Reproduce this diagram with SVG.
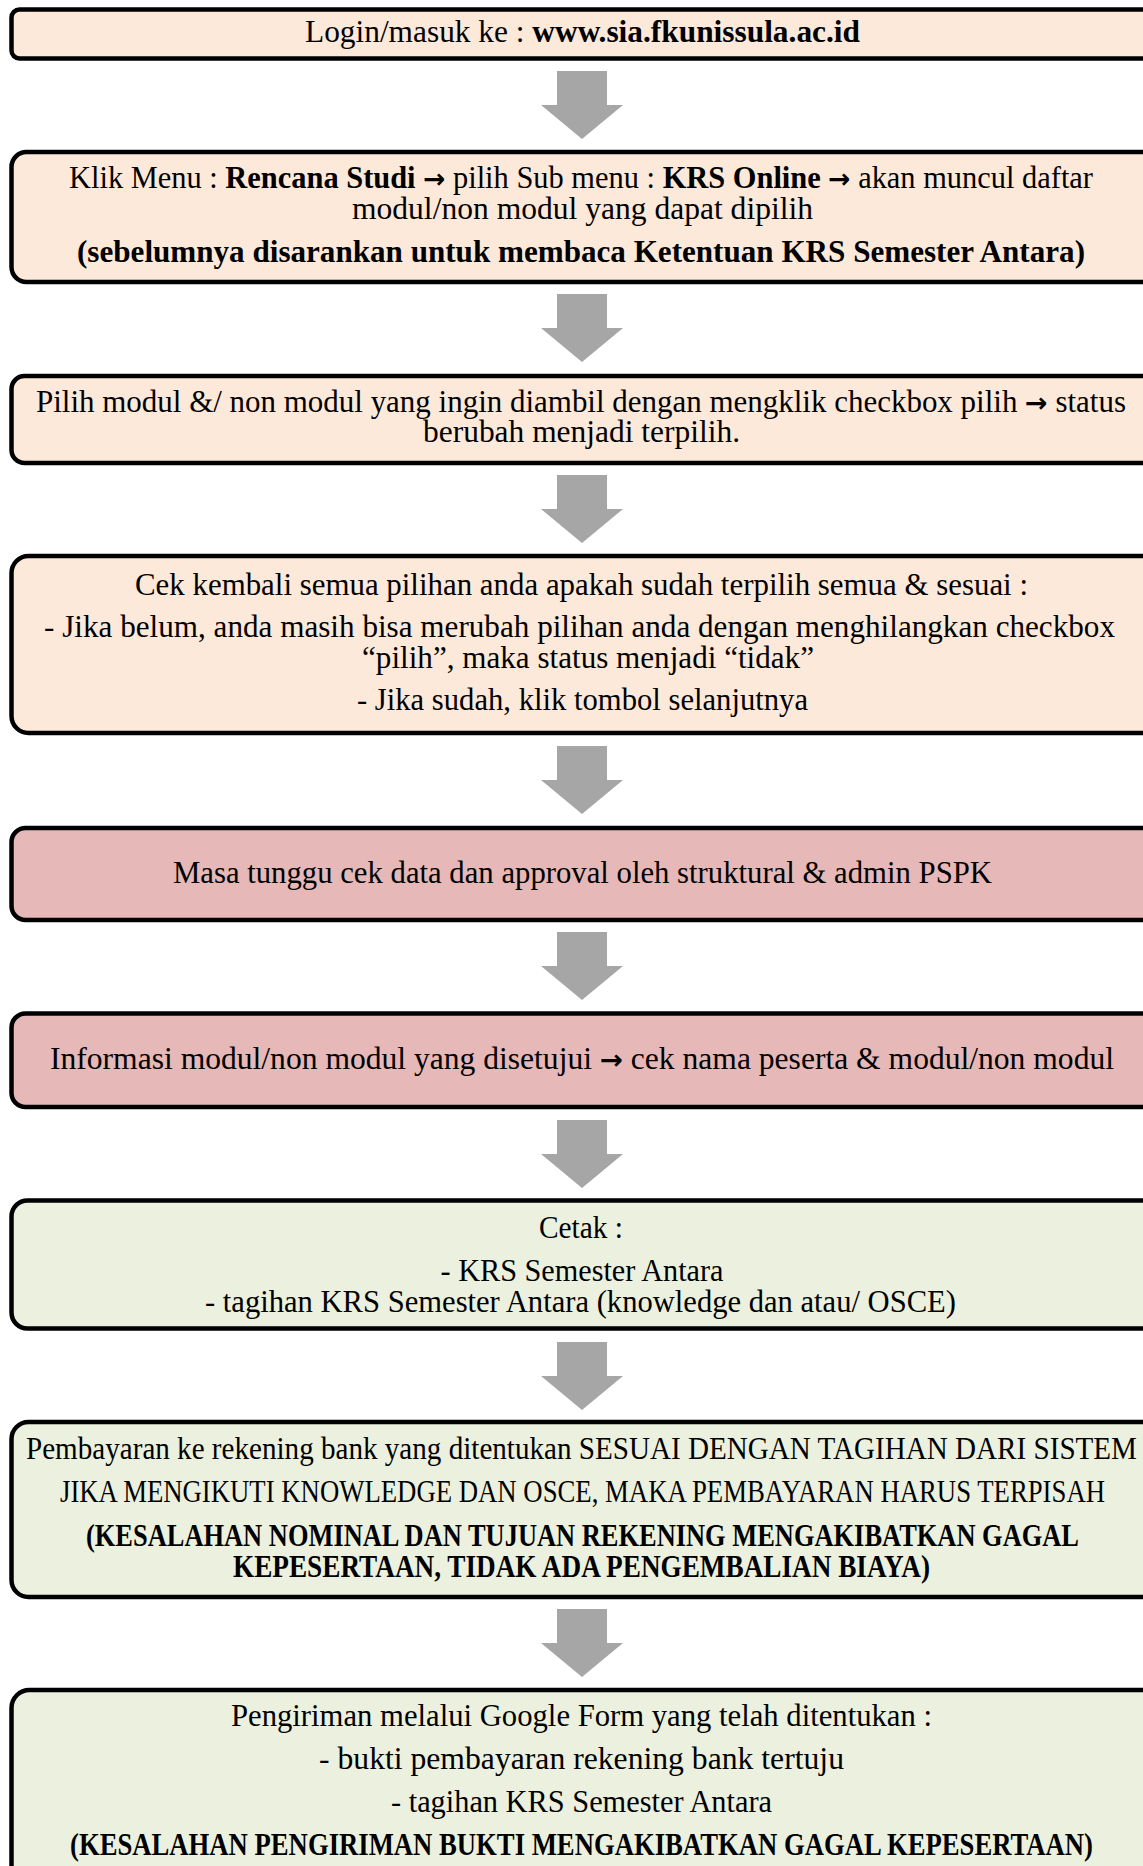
<svg xmlns="http://www.w3.org/2000/svg" width="1143" height="1866" viewBox="0 0 1143 1866">
<style>
.box{stroke:#000;stroke-width:4.5}
.peach{fill:#FDE9D9}
.pink{fill:#E6B8B7}
.green{fill:#EBF1DE}
text{font-family:"Liberation Serif","Times New Roman",serif;font-size:31px;fill:#000;text-anchor:middle}
.b{font-weight:bold}
.ar{font-family:"DejaVu Sans",sans-serif;font-weight:bold;font-size:27px}
.arr{fill:#A6A6A6}
</style>
<defs>
<polygon id="down" points="-25,0 25,0 25,34 41,34 0,68 -41,34 -25,34"/>
</defs>
<rect width="1143" height="1866" fill="#fff"/>
<g id="connectors" class="arr">
<use href="#down" x="582" y="71"/>
<use href="#down" x="582" y="294"/>
<use href="#down" x="582" y="475"/>
<use href="#down" x="582" y="746"/>
<use href="#down" x="582" y="932"/>
<use href="#down" x="582" y="1120"/>
<use href="#down" x="582" y="1342"/>
<use href="#down" x="582" y="1609"/>
</g>
<g id="node1">
<rect class="box peach" x="11.5" y="9.5" width="1150" height="49" rx="8"/>
<text x="582.5" y="42" textLength="555" lengthAdjust="spacingAndGlyphs">Login/masuk ke : <tspan class="b">www.sia.fkunissula.ac.id</tspan></text>
</g>
<g id="node2">
<rect class="box peach" x="11.5" y="152" width="1150" height="130" rx="15"/>
<text x="581" y="188" textLength="1024" lengthAdjust="spacingAndGlyphs">Klik Menu : <tspan class="b">Rencana Studi</tspan> <tspan class="ar">→</tspan> pilih Sub menu : <tspan class="b">KRS Online</tspan> <tspan class="ar">→</tspan> akan muncul daftar</text>
<text x="582.5" y="219" textLength="461" lengthAdjust="spacingAndGlyphs">modul/non modul yang dapat dipilih</text>
<text class="b" x="581" y="262" textLength="1008" lengthAdjust="spacingAndGlyphs">(sebelumnya disarankan untuk membaca Ketentuan KRS Semester Antara)</text>
</g>
<g id="node3">
<rect class="box peach" x="11.5" y="376" width="1150" height="87" rx="13"/>
<text x="581" y="412" textLength="1090" lengthAdjust="spacingAndGlyphs">Pilih modul &amp;/ non modul yang ingin diambil dengan mengklik checkbox pilih <tspan class="ar">→</tspan> status</text>
<text x="581.5" y="442" textLength="317" lengthAdjust="spacingAndGlyphs">berubah menjadi terpilih.</text>
</g>
<g id="node4">
<rect class="box peach" x="11.5" y="556" width="1150" height="177" rx="17"/>
<text x="581.5" y="595" textLength="893" lengthAdjust="spacingAndGlyphs">Cek kembali semua pilihan anda apakah sudah terpilih semua &amp; sesuai :</text>
<text x="579.5" y="637" textLength="1071" lengthAdjust="spacingAndGlyphs">- Jika belum, anda masih bisa merubah pilihan anda dengan menghilangkan checkbox</text>
<text x="588" y="668" textLength="452" lengthAdjust="spacingAndGlyphs">“pilih”, maka status menjadi “tidak”</text>
<text x="582.5" y="710" textLength="451" lengthAdjust="spacingAndGlyphs">- Jika sudah, klik tombol selanjutnya</text>
</g>
<g id="node5">
<rect class="box pink" x="11.5" y="828" width="1150" height="92" rx="14"/>
<text x="582.5" y="883" textLength="819" lengthAdjust="spacingAndGlyphs">Masa tunggu cek data dan approval oleh struktural &amp; admin PSPK</text>
</g>
<g id="node6">
<rect class="box pink" x="11.5" y="1013.5" width="1150" height="93.5" rx="14"/>
<text x="582" y="1069" textLength="1064" lengthAdjust="spacingAndGlyphs">Informasi modul/non modul yang disetujui <tspan class="ar">→</tspan> cek nama peserta &amp; modul/non modul</text>
</g>
<g id="node7">
<rect class="box green" x="11.5" y="1200.5" width="1150" height="128" rx="16"/>
<text x="581" y="1238" textLength="84" lengthAdjust="spacingAndGlyphs">Cetak :</text>
<text x="582" y="1281" textLength="283" lengthAdjust="spacingAndGlyphs">- KRS Semester Antara</text>
<text x="580.5" y="1312" textLength="751" lengthAdjust="spacingAndGlyphs">- tagihan KRS Semester Antara (knowledge dan atau/ OSCE)</text>
</g>
<g id="node8">
<rect class="box green" x="11.5" y="1422" width="1150" height="175" rx="17"/>
<text x="581.5" y="1459" textLength="1111" lengthAdjust="spacingAndGlyphs">Pembayaran ke rekening bank yang ditentukan SESUAI DENGAN TAGIHAN DARI SISTEM</text>
<text x="582.5" y="1502" textLength="1045" lengthAdjust="spacingAndGlyphs">JIKA MENGIKUTI KNOWLEDGE DAN OSCE, MAKA PEMBAYARAN HARUS TERPISAH</text>
<text class="b" x="582.5" y="1546" textLength="993" lengthAdjust="spacingAndGlyphs">(KESALAHAN NOMINAL DAN TUJUAN REKENING MENGAKIBATKAN GAGAL</text>
<text class="b" x="581.5" y="1577" textLength="697" lengthAdjust="spacingAndGlyphs">KEPESERTAAN, TIDAK ADA PENGEMBALIAN BIAYA)</text>
</g>
<g id="node9">
<rect class="box green" x="11.5" y="1690" width="1150" height="200" rx="18"/>
<text x="581.5" y="1726" textLength="701" lengthAdjust="spacingAndGlyphs">Pengiriman melalui Google Form yang telah ditentukan :</text>
<text x="581.5" y="1769" textLength="525" lengthAdjust="spacingAndGlyphs">- bukti pembayaran rekening bank tertuju</text>
<text x="581.5" y="1812" textLength="381" lengthAdjust="spacingAndGlyphs">- tagihan KRS Semester Antara</text>
<text class="b" x="581.5" y="1855" textLength="1023" lengthAdjust="spacingAndGlyphs">(KESALAHAN PENGIRIMAN BUKTI MENGAKIBATKAN GAGAL KEPESERTAAN)</text>
</g>
</svg>
